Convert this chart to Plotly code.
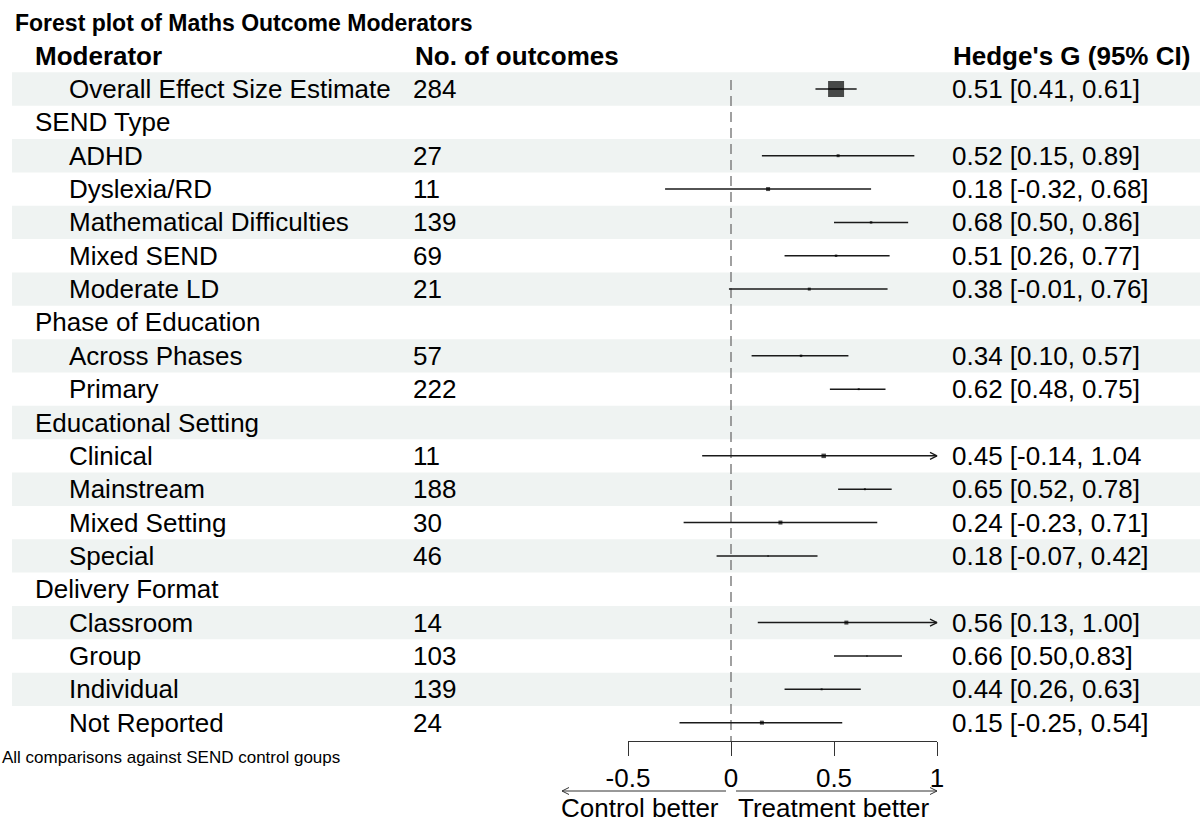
import plotly.graph_objects as go

# ---------------------------------------------------------------------------
# Data
# ---------------------------------------------------------------------------
moderators = [
    "Overall Effect Size Estimate",
    "SEND Type",
    "ADHD",
    "Dyslexia/RD",
    "Mathematical Difficulties",
    "Mixed SEND",
    "Moderate LD",
    "Phase of Education",
    "Across Phases",
    "Primary",
    "Educational Setting",
    "Clinical",
    "Mainstream",
    "Mixed Setting",
    "Special",
    "Delivery Format",
    "Classroom",
    "Group",
    "Individual",
    "Not Reported",
]
# heading rows carry no estimate
is_heading = [False, True, False, False, False, False, False, True, False, False,
              True, False, False, False, False, True, False, False, False, False]

n_outcomes = ["284", "", "27", "11", "139", "69", "21", "", "57", "222",
              "", "11", "188", "30", "46", "", "14", "103", "139", "24"]

estimate = [0.51, None, 0.52, 0.18, 0.68, 0.51, 0.38, None, 0.34, 0.62,
            None, 0.45, 0.65, 0.24, 0.18, None, 0.56, 0.66, 0.44, 0.15]
ci_low = [0.41, None, 0.15, -0.32, 0.50, 0.26, -0.01, None, 0.10, 0.48,
          None, -0.14, 0.52, -0.23, -0.07, None, 0.13, 0.50, 0.26, -0.25]
ci_high = [0.61, None, 0.89, 0.68, 0.86, 0.77, 0.76, None, 0.57, 0.75,
           None, 1.04, 0.78, 0.71, 0.42, None, 1.00, 0.83, 0.63, 0.54]

ci_text = ["0.51 [0.41, 0.61]", "", "0.52 [0.15, 0.89]", "0.18 [-0.32, 0.68]",
           "0.68 [0.50, 0.86]", "0.51 [0.26, 0.77]", "0.38 [-0.01, 0.76]", "",
           "0.34 [0.10, 0.57]", "0.62 [0.48, 0.75]", "", "0.45 [-0.14, 1.04",
           "0.65 [0.52, 0.78]", "0.24 [-0.23, 0.71]", "0.18 [-0.07, 0.42]", "",
           "0.56 [0.13, 1.00]", "0.66 [0.50,0.83]", "0.44 [0.26, 0.63]",
           "0.15 [-0.25, 0.54]"]

x_ticks = [-0.5, 0, 0.5, 1]
x_tick_labels = ["-0.5", "0", "0.5", "1"]

# ---------------------------------------------------------------------------
# Styling / geometry
# ---------------------------------------------------------------------------
W, H = 1200, 823
FONT = "Liberation Sans, Arial, Helvetica, sans-serif"
TXT = "#000000"
SHADE = "#eff3f2"
LINE = "#1a1a1a"
BODY = 26

# box side (px) for each row, scaled by study weight
box_px = [16, 0, 3, 4, 2.5, 2.5, 3, 0, 2.5, 2, 0, 4.5, 2, 4, 1.5, 0, 4, 1.5, 2, 4]

X0_PX, PX_PER_UNIT = 731, 206      # pixel of x = 0 and pixels per unit of g
ROW0_PX, ROW_PX = 89, 33.35        # centre of first row and row pitch
XLIM = (-0.5, 1.0)

x_range = [(0 - X0_PX) / PX_PER_UNIT, (W - X0_PX) / PX_PER_UNIT]
y_range = [(H - ROW0_PX) / ROW_PX, (0 - ROW0_PX) / ROW_PX]


def row_at(px):
    return (px - ROW0_PX) / ROW_PX


def dx(px):
    return px / PX_PER_UNIT


def dy(px):
    return px / ROW_PX


COL_LABEL_HEAD, COL_LABEL_ITEM = 33 / W, 67 / W
COL_N = 411 / W
COL_CI = 950 / W

fig = go.Figure()

# ---------------------------------------------------------------------------
# Row shading
# ---------------------------------------------------------------------------
shapes = []
for i in range(len(moderators)):
    if i % 2 == 0:
        shapes.append(dict(type="rect", xref="paper", yref="y", x0=12 / W, x1=1,
                           y0=i - 0.5, y1=i + 0.5, fillcolor=SHADE,
                           line=dict(width=0), layer="below"))

# reference line at no effect
shapes.append(dict(type="line", xref="x", yref="y", x0=0, x1=0,
                   y0=row_at(80), y1=row_at(741),
                   line=dict(color="#6e6e6e", width=1.3, dash="10px,6px"),
                   layer="below"))

# ---------------------------------------------------------------------------
# Confidence intervals, clipped arrows and boxes
# ---------------------------------------------------------------------------
ci_x, ci_y = [], []
arr_x, arr_y = [], []
box_x, box_y, box_s = [], [], []
head_len, head_half = dx(7), dy(3.5)
for i, (g, lo, hi) in enumerate(zip(estimate, ci_low, ci_high)):
    if g is None:
        continue
    lo_c = max(lo, XLIM[0])
    hi_c = min(hi, XLIM[1])
    ci_x += [lo_c, hi_c, None]
    ci_y += [i, i, None]
    if hi >= XLIM[1]:
        arr_x += [hi_c - head_len, hi_c, hi_c - head_len, None]
        arr_y += [i - head_half, i, i + head_half, None]
    if lo < XLIM[0]:
        arr_x += [lo_c + head_len, lo_c, lo_c + head_len, None]
        arr_y += [i - head_half, i, i + head_half, None]
    box_x.append(g)
    box_y.append(i)
    box_s.append(box_px[i])

fig.add_trace(go.Scatter(x=ci_x, y=ci_y, mode="lines",
                         line=dict(color=LINE, width=1.5),
                         hoverinfo="skip", showlegend=False))
fig.add_trace(go.Scatter(x=arr_x, y=arr_y, mode="lines",
                         line=dict(color=LINE, width=1.2),
                         hoverinfo="skip", showlegend=False))
fig.add_trace(go.Scatter(x=box_x, y=box_y, mode="markers",
                         marker=dict(symbol="square", size=box_s, color="#000000",
                                     line=dict(width=0)),
                         hoverinfo="skip", showlegend=False))

# ---------------------------------------------------------------------------
# Direction arrows under the axis
# ---------------------------------------------------------------------------
y_arrow = row_at(791)
left_end, right_end = dx(562 - X0_PX), XLIM[1]
gap = dx(5)
dir_x = [-gap, left_end, None,
         left_end + head_len, left_end, left_end + head_len, None,
         gap, right_end, None,
         right_end - head_len, right_end, right_end - head_len, None]
dir_y = [y_arrow, y_arrow, None,
         y_arrow - head_half, y_arrow, y_arrow + head_half, None,
         y_arrow, y_arrow, None,
         y_arrow - head_half, y_arrow, y_arrow + head_half, None]
fig.add_trace(go.Scatter(x=dir_x, y=dir_y, mode="lines",
                         line=dict(color="#333333", width=1),
                         hoverinfo="skip", showlegend=False))

# invisible trace to carry the effect-size axis
fig.add_trace(go.Scatter(x=[XLIM[0], XLIM[1]], y=[0, 0], xaxis="x2", yaxis="y",
                         mode="markers", marker=dict(opacity=0),
                         hoverinfo="skip", showlegend=False))

# ---------------------------------------------------------------------------
# Table text
# ---------------------------------------------------------------------------
ann = []


def add_text(text, x, y, size=BODY, bold=False, anchor="left", xref="paper"):
    ann.append(dict(text=f"<b>{text}</b>" if bold else text, x=x, y=y,
                    xref=xref, yref="y", xanchor=anchor, yanchor="middle",
                    showarrow=False, font=dict(family=FONT, size=size, color=TXT)))


ann.append(dict(text="<b>Forest plot of Maths Outcome Moderators</b>",
                x=13 / W, y=1 - 23 / H, xref="paper", yref="paper",
                xanchor="left", yanchor="middle", showarrow=False,
                font=dict(family=FONT, size=23, color=TXT)))

add_text("Moderator", COL_LABEL_HEAD, -1, bold=True)
add_text("No. of outcomes", 413 / W, -1, bold=True)
add_text("Hedge's G (95% CI)", 951 / W, -1, bold=True)

for i, lab in enumerate(moderators):
    add_text(lab, COL_LABEL_HEAD if is_heading[i] else COL_LABEL_ITEM, i)
    if n_outcomes[i]:
        add_text(n_outcomes[i], COL_N, i)
    if ci_text[i]:
        add_text(ci_text[i], COL_CI, i)

add_text("All comparisons against SEND control goups", 0, row_at(757), size=17)
add_text("Control better", dx(721 - X0_PX), row_at(808), anchor="right", xref="x")
add_text("Treatment better", dx(736 - X0_PX), row_at(808), anchor="left", xref="x")

# ---------------------------------------------------------------------------
# Layout
# ---------------------------------------------------------------------------
fig.update_layout(
    width=W, height=H,
    margin=dict(l=0, r=0, t=0, b=0, pad=0, autoexpand=False),
    paper_bgcolor="white", plot_bgcolor="rgba(0,0,0,0)",
    showlegend=False,
    xaxis=dict(range=x_range, visible=False, domain=[0, 1], fixedrange=True,
               automargin=False),
    yaxis=dict(range=y_range, visible=False, domain=[0, 1], fixedrange=True,
               automargin=False),
    xaxis2=dict(
        domain=[(X0_PX + XLIM[0] * PX_PER_UNIT) / W, (X0_PX + XLIM[1] * PX_PER_UNIT) / W],
        range=list(XLIM), anchor="free", position=1 - 741 / H, side="bottom",
        showline=True, linecolor="#333333", linewidth=1.3,
        ticks="outside", ticklen=14, tickwidth=1.3, tickcolor="#333333",
        tickvals=x_ticks, ticktext=x_tick_labels,
        tickfont=dict(family=FONT, size=BODY, color=TXT), automargin=False,
        showgrid=False, zeroline=False, fixedrange=True,
    ),
    shapes=shapes,
    annotations=ann,
)

fig.write_html("out.html")
